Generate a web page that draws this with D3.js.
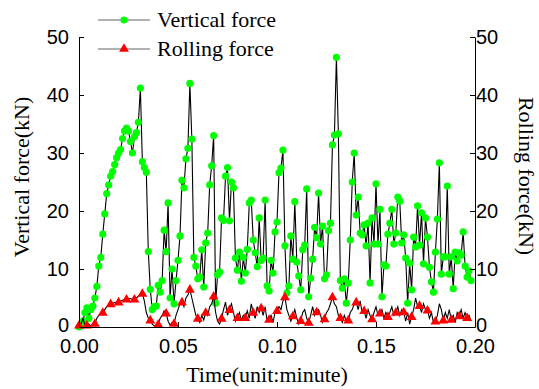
<!DOCTYPE html>
<html>
<head>
<meta charset="utf-8">
<script src="https://cdn.jsdelivr.net/npm/d3@7"></script>
<style>
  body { margin: 0; background: #fff; }
  svg { display: block; }
</style>
</head>
<body>
<div id="chart"></div>
<script>
// time step of both series (minutes)
const timeStep = 0.001;

const verticalForce = [
  0, 0.3, 1.0, 2.5, 3.3, 1.5, 3.0, 3.6, 5.0, 7.0,
  10.5, 12.0, 16.0, 19.5, 23.0, 24.5, 26.0, 26.8, 28.0, 29.2,
  30.0, 30.6, 32.5, 33.8, 34.3, 33.8, 32.0, 30.0, 32.8, 33.5,
  35.3, 41.2, 28.5, 27.5, 26.7, 13.0, 6.5, 3.0, 3.5, 3.6,
  7.2, 6.0, 8.0, 16.7, 13.0, 21.4, 5.0, 10.0, 4.0, 8.0,
  11.5, 15.7, 25.3, 24.0, 29.0, 30.8, 42.0, 32.4, 12.0, 10.5,
  8.3, 8.6, 13.3, 6.9, 14.5, 16.2, 24.5, 27.8, 33.0, 4.1,
  9.0, 9.5, 18.8, 18.4, 26.0, 27.5, 18.3, 25.0, 24.0, 11.9,
  9.8, 12.9, 7.9, 12.0, 9.3, 13.4, 21.4, 21.9, 15.0, 12.8,
  10.4, 18.8, 11.5, 11.9, 21.9, 7.1, 6.2, 11.5, 9.3, 16.4,
  18.1, 26.6, 27.4, 30.5, 14.0, 5.9, 7.1, 15.7, 11.7, 21.6,
  11.2, 8.8, 6.4, 13.3, 14.1, 23.8, 5.2, 8.4, 11.7, 17.2,
  15.4, 23.1, 14.3, 17.4, 8.3, 9.0, 16.6, 17.9, 31.4, 33.1,
  46.5, 33.3, 8.0, 6.7, 8.3, 4.1, 7.6, 15.0, 25.0, 30.0,
  19.3, 22.4, 16.2, 15.9, 17.6, 14.0, 17.9, 7.6, 18.8, 14.3,
  24.7, 14.3, 20.3, 5.2, 10.7, 10.5, 16.0, 17.9, 20.3, 14.3,
  16.2, 22.4, 21.7, 14.5, 15.9, 11.9, 4.1, 11.0, 6.4, 15.5,
  13.8, 20.9, 14.1, 19.7, 10.9, 18.8, 15.5, 10.3, 7.8, 6.0,
  12.9, 18.6, 28.3, 9.1, 12.1, 12.1, 24.3, 9.1, 12.1, 6.6,
  12.9, 11.4, 12.8, 12.4, 16.4, 10.5, 8.6, 9.7, 8.0
];

const rollingForce = [
  0.3, 0.5, 1.5, 0.3, 0.3, 0.5, 0.2, 0.4, 0.6, 1.5,
  2.0, 2.3, 2.5, 3.0, 3.5, 3.8, 4.0, 4.1, 4.2, 4.3,
  4.3, 4.5, 4.6, 4.7, 4.8, 4.9, 4.9, 4.8, 4.8, 5.0,
  5.3, 5.6, 5.8, 4.5, 2.5, 1.5, 1.2, 0.5, 0.2, 0.3,
  0.5, 1.5, 2.0, 2.8, 2.4, 1.0, 0.3, 0.8, 0.6, 2.0,
  3.0, 4.0, 4.3, 3.5, 5.0, 5.5, 6.5, 5.0, 3.5, 2.0,
  1.5, 0.8, 2.0, 1.2, 2.5, 2.0, 3.5, 4.0, 5.3, 2.5,
  1.0, 0.5, 1.5, 3.0, 4.3, 2.0, 3.0, 4.0, 2.5, 1.0,
  1.6, 2.5, 1.2, 2.0, 1.6, 2.8, 1.5, 4.0, 2.5, 1.5,
  3.5, 2.5, 3.3, 2.0, 3.5, 1.0, 1.3, 2.0, 0.8, 2.5,
  2.8, 3.5, 3.0, 4.5, 5.2, 3.0, 2.0, 1.0, 1.9, 3.0,
  1.5, 0.5, 1.1, 2.5, 3.0, 1.5, 0.8, 2.0, 3.5, 2.0,
  2.6, 3.0, 2.0, 0.8, 1.4, 2.5, 3.0, 4.0, 5.2, 4.0,
  3.5, 2.0, 1.6, 0.8, 2.0, 1.0, 1.2, 2.5, 3.0, 4.0,
  4.3, 3.0, 4.5, 2.5, 2.8, 1.5, 3.0, 2.0, 1.4, 2.5,
  3.5, 2.0, 2.4, 3.0, 1.5, 2.5, 1.8, 2.5, 3.5, 2.0,
  2.5, 3.5, 2.0, 3.0, 2.6, 1.0, 2.5, 0.5, 1.8, 3.0,
  5.0, 3.5, 3.7, 2.5, 4.0, 3.0, 2.9, 1.5, 2.5, 0.8,
  1.0, 2.0, 4.0, 3.0, 1.2, 2.5, 1.5, 3.0, 1.3, 2.0,
  0.8, 2.5, 1.9, 3.0, 1.5, 2.5, 1.6, 2.0, 1.0
];

// every 4th rolling force point carries a triangle
const rollingMarkerEvery = 4;

const xTicks = [0, 0.05, 0.10, 0.15, 0.20];
const yTicks = [0, 10, 20, 30, 40, 50];
const seriesNames = ['Vertical force', 'Rolling force'];

const svgWidth = 539;
const svgHeight = 389;
const margin = { top: 37, right: 64, bottom: 62, left: 79 };
const width = svgWidth - margin.left - margin.right;
const height = svgHeight - margin.top - margin.bottom;

const svgRoot = d3.select('#chart').append('svg')
  .attr('width', svgWidth)
  .attr('height', svgHeight);

const svg = svgRoot.append('g')
  .attr('transform', `translate(${margin.left},${margin.top})`);

const xScale = d3.scaleLinear().domain([0, 0.2]).range([0, width]);
const yScale = d3.scaleLinear().domain([0, 50]).range([height, 0]);

const vData = verticalForce.map((v, i) => ({ t: i * timeStep, v }));
const rData = rollingForce.map((v, i) => ({ t: i * timeStep, v }));

const line = d3.line()
  .x(d => xScale(d.t))
  .y(d => yScale(d.v));

// vertical force
svg.append('path')
  .datum(vData)
  .attr('d', line)
  .attr('fill', 'none')
  .attr('stroke', '#000')
  .attr('stroke-width', 1.1);

svg.append('g')
  .selectAll('circle')
  .data(vData)
  .join('circle')
  .attr('cx', d => xScale(d.t))
  .attr('cy', d => yScale(d.v))
  .attr('r', 3.6)
  .attr('fill', '#00ff00');

// rolling force
svg.append('path')
  .datum(rData)
  .attr('d', line)
  .attr('fill', 'none')
  .attr('stroke', '#000')
  .attr('stroke-width', 1.1);

const tri = d3.symbol().type(d3.symbolTriangle).size(42);

svg.append('g')
  .selectAll('path')
  .data(rData.filter((d, i) => i % rollingMarkerEvery === 0))
  .join('path')
  .attr('d', tri)
  .attr('transform', d => `translate(${xScale(d.t)},${yScale(d.v) + 0.5})`)
  .attr('fill', '#ff0000');

// axes
const tickFont = '"Liberation Sans", Arial, sans-serif';
const titleFont = '"Liberation Serif", "Times New Roman", serif';

const xAxis = svg.append('g')
  .attr('transform', `translate(0,${height})`)
  .call(d3.axisBottom(xScale).tickValues(xTicks).tickFormat(d3.format('.2f'))
    .tickSizeInner(-5).tickSizeOuter(0).tickPadding(12));

const yAxisL = svg.append('g')
  .call(d3.axisLeft(yScale).tickValues(yTicks).tickFormat(d3.format('d'))
    .tickSizeInner(-5).tickSizeOuter(0).tickPadding(10));

const yAxisR = svg.append('g')
  .attr('transform', `translate(${width},0)`)
  .call(d3.axisRight(yScale).tickValues(yTicks).tickFormat(d3.format('d'))
    .tickSizeInner(-5).tickSizeOuter(0).tickPadding(5));

[xAxis, yAxisL, yAxisR].forEach(ax => {
  ax.selectAll('path.domain').attr('stroke', '#000').attr('stroke-width', 1);
  ax.selectAll('line').attr('stroke', '#000');
  ax.selectAll('text')
    .style('font-family', tickFont)
    .style('font-size', '20px')
    .attr('fill', '#000');
});
yAxisR.selectAll('text').attr('x', 1);
// lift the two "0" labels a little off the time labels
[yAxisL, yAxisR].forEach(ax => {
  ax.selectAll('.tick').filter(d => d === 0).select('text').attr('y', -2);
});

// axis titles
svgRoot.append('text')
  .attr('transform', 'translate(29,177) rotate(-90)')
  .attr('text-anchor', 'middle')
  .style('font-family', titleFont)
  .style('font-size', '22px')
  .text('Vertical force(kN)');

svgRoot.append('text')
  .attr('transform', 'translate(519,176) rotate(90)')
  .attr('text-anchor', 'middle')
  .style('font-family', titleFont)
  .style('font-size', '22px')
  .text('Rolling force(kN)');

svgRoot.append('text')
  .attr('x', margin.left + width / 2 - 10)
  .attr('y', 382)
  .attr('text-anchor', 'middle')
  .style('font-family', titleFont)
  .style('font-size', '22px')
  .text('Time(unit:minute)');

// legend
const legend = svgRoot.append('g').attr('transform', 'translate(98,20)');
seriesNames.forEach((name, i) => {
  const g = legend.append('g').attr('transform', `translate(0,${i * 29})`);
  g.append('line')
    .attr('x1', 0).attr('x2', 52)
    .attr('stroke', '#666').attr('stroke-width', 1.2);
  if (i === 0) {
    g.append('circle').attr('cx', 26).attr('r', 3.5).attr('fill', '#00ff00');
  } else {
    g.append('path').attr('d', tri).attr('transform', 'translate(26,0)').attr('fill', '#ff0000');
  }
  g.append('text')
    .attr('x', 59)
    .attr('y', 7)
    .style('font-family', titleFont)
    .style('font-size', '22px')
    .text(name);
});
</script>
</body>
</html>
